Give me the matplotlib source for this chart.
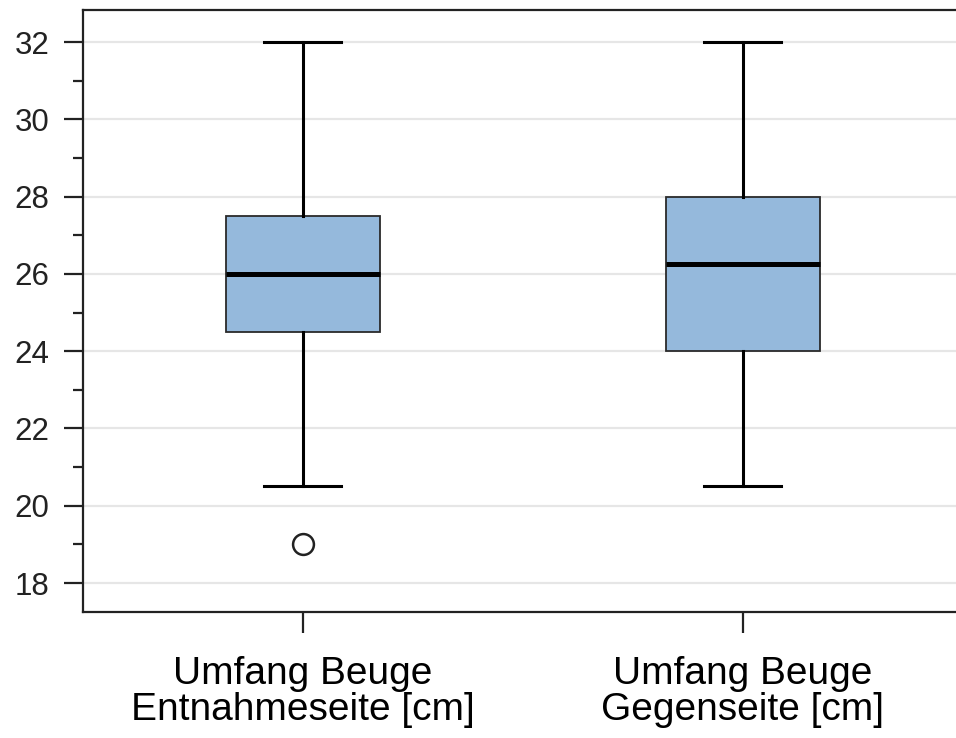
import matplotlib
matplotlib.use("Agg")
import matplotlib.pyplot as plt

plt.rcParams['font.family'] = ['Liberation Sans', 'DejaVu Sans']

# Summary statistics for each measurement
labels = ["Umfang Beuge\nEntnahmeseite [cm]", "Umfang Beuge\nGegenseite [cm]"]
whisker_low = [20.5, 20.5]
q1 = [24.5, 24.0]
median = [26.0, 26.25]
q3 = [27.5, 28.0]
whisker_high = [32.0, 32.0]
outliers = [[19.0], []]

stats = []
for i in range(len(labels)):
    stats.append(dict(whislo=whisker_low[i], q1=q1[i], med=median[i], q3=q3[i],
                      whishi=whisker_high[i], fliers=outliers[i], label=labels[i]))

fig = plt.figure(figsize=(9.56, 7.38), dpi=100)
ax = fig.add_axes([83/956, 1 - 612/738, (962.5 - 83)/956, (612 - 10)/738])

ax.bxp(stats, positions=[1, 2], widths=0.35, patch_artist=True,
       boxprops=dict(facecolor='#95b9dc', edgecolor='#2a2a2a', linewidth=1.3),
       medianprops=dict(color='black', linewidth=3.6, solid_capstyle='butt'),
       whiskerprops=dict(color='black', linewidth=2.2),
       capprops=dict(color='black', linewidth=2.2),
       capwidths=0.175,
       flierprops=dict(marker='o', markersize=15, markerfacecolor='none',
                       markeredgecolor='#222222', markeredgewidth=1.8))

ax.set_xlim(0.5, 2.5)
ax.set_ylim(17.25, 32.83)
ax.set_yticks([18, 20, 22, 24, 26, 28, 30, 32])
ax.set_yticks([19, 21, 23, 25, 27, 29, 31], minor=True)

ax.yaxis.grid(True, color='#e6e6e6', linewidth=1.6)
ax.set_axisbelow(True)

for side in ['left', 'top', 'bottom']:
    ax.spines[side].set_linewidth(1.6)
    ax.spines[side].set_color('#222222')
ax.spines['right'].set_visible(False)

ax.tick_params(axis='y', which='major', length=14, width=1.6, color='#222222',
               labelsize=22.5, pad=10)
ax.tick_params(axis='y', which='minor', length=7, width=1.6, color='#222222')
ax.tick_params(axis='x', which='major', length=15, width=1.6, color='#222222',
               labelsize=28, pad=17)
for t in ax.get_xticklabels():
    t.set_linespacing(1.0)
for t in ax.get_yticklabels():
    t.set_color('#222222')

fig.savefig("out.png", dpi=100)
